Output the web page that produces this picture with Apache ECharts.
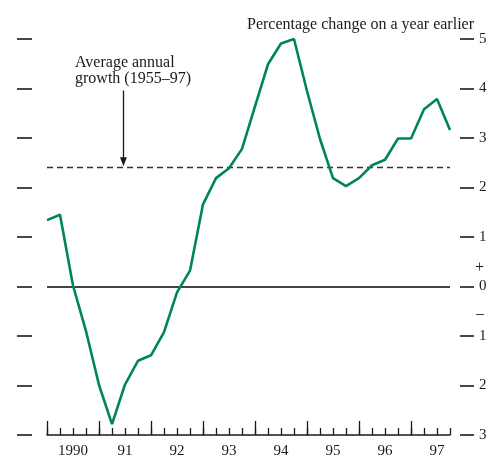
<!DOCTYPE html>
<html>
<head>
<meta charset="utf-8">
<script src="https://cdn.jsdelivr.net/npm/echarts@6/dist/echarts.min.js"></script>
<style>
  html, body { margin: 0; padding: 0; background: #fff; }
  #chart { width: 492px; height: 459px; }
</style>
</head>
<body>
<div id="chart"></div>
<script>
// year labels, one per year, 4 quarters each (1990 Q1 - 1997 Q4)
var yearLabels = ['1990', '91', '92', '93', '94', '95', '96', '97'];
// percentage change on a year earlier, quarterly
var growth = [1.34, 1.45, 0.02, -0.9, -1.99, -2.78, -1.98, -1.5,
              -1.39, -0.92, -0.12, 0.32, 1.66, 2.19, 2.39, 2.78,
              3.64, 4.49, 4.91, 5.0, 3.95, 2.98, 2.19, 2.03,
              2.19, 2.45, 2.56, 2.99, 2.99, 3.58, 3.79, 3.16];
var avgGrowth = 2.4;           // average annual growth 1955-97
var arrowX = 5.88;             // quarter position of the annotation arrow
var arrowFrom = 3.96, arrowTo = 2.52;
var yTicks = [-3, 5];          // axis range

var quarters = [];
yearLabels.forEach(function (y) {
  for (var q = 1; q <= 4; q++) quarters.push(y + ' Q' + q);
});
var lineData = growth.map(function (v, i) { return [i, v]; });

var serif = 'Liberation Serif';
var ink = '#1a1a1a';

var chart = echarts.init(document.getElementById('chart'));
var option = {
  animation: false,
  grid: { left: 47, right: 42, top: 39, bottom: 21 },
  xAxis: [
    {
      type: 'value', min: 0, max: quarters.length - 1,
      axisLine: { show: true, onZero: false, lineStyle: { color: ink, width: 1.5 } },
      axisTick: { show: false }, axisLabel: { show: false }, splitLine: { show: false }
    },
    {
      // quarter ticks + year labels
      type: 'category', data: quarters, boundaryGap: false, position: 'bottom',
      axisLine: { show: false, onZero: false },
      axisTick: { show: true, inside: true, length: 7, interval: 0, lineStyle: { color: ink, width: 1.3 } },
      axisLabel: {
        show: true, margin: 9,
        interval: function (i) { return i % 4 === 2; },
        formatter: function (v, i) { return yearLabels[Math.floor(i / 4)]; },
        fontFamily: serif, fontSize: 15, color: ink
      },
      splitLine: { show: false }
    },
    {
      // year ticks
      type: 'category', data: quarters, boundaryGap: false, position: 'bottom',
      axisLine: { show: false, onZero: false },
      axisTick: { show: true, inside: true, length: 14,
        interval: function (i) { return i % 4 === 0; },
        lineStyle: { color: ink, width: 1.3 } },
      axisLabel: { show: false },
      splitLine: { show: false }
    }
  ],
  yAxis: [
    {
      type: 'value', min: yTicks[0], max: yTicks[1], interval: 1, position: 'left', offset: 15,
      axisLine: { show: false, onZero: false },
      axisTick: { show: true, length: 15, lineStyle: { color: ink, width: 1.6 } },
      axisLabel: { show: false }, splitLine: { show: false }
    },
    {
      type: 'value', min: yTicks[0], max: yTicks[1], interval: 1, position: 'right', offset: 10,
      axisLine: { show: false, onZero: false },
      axisTick: { show: true, length: 14, lineStyle: { color: ink, width: 1.6 } },
      axisLabel: {
        margin: 19, fontFamily: serif, fontSize: 15, color: ink,
        formatter: function (v) { return String(Math.abs(v)); }
      },
      splitLine: { show: false }
    }
  ],
  graphic: [
    { type: 'text', right: 18, top: 17,
      style: { text: 'Percentage change on a year earlier', font: '16px ' + serif, fill: ink } },
    { type: 'text', left: 75, top: 55,
      style: { text: 'Average annual\ngrowth (1955\u201397)', font: '16px ' + serif, fill: ink, lineHeight: 16 } },
    { type: 'text', x: 479.5, y: 268,
      style: { text: '+', font: '16px ' + serif, fill: ink, align: 'center', verticalAlign: 'middle' } },
    { type: 'text', x: 480, y: 314,
      style: { text: '\u2013', font: '16px ' + serif, fill: ink, align: 'center', verticalAlign: 'middle' } }
  ],
  series: [
    {
      type: 'line', xAxisIndex: 0, yAxisIndex: 0,
      data: lineData, showSymbol: false, clip: false,
      lineStyle: { color: '#00855a', width: 2.6 },
      z: 5,
      markLine: {
        silent: true, symbol: 'none', animation: false,
        label: { show: false },
        data: [
          { yAxis: 0, lineStyle: { color: '#444', width: 1.9, type: 'solid' } },
          { yAxis: avgGrowth, lineStyle: { color: '#333', width: 1.3, type: [6, 4] } },
          [
            { coord: [arrowX, arrowFrom], symbol: 'none', lineStyle: { color: ink, width: 1.3, type: 'solid' } },
            { coord: [arrowX, arrowTo], symbol: 'triangle', symbolSize: [7, 9], symbolRotate: 180 }
          ]
        ]
      }
    }
  ]
};
chart.setOption(option);
</script>
</body>
</html>
